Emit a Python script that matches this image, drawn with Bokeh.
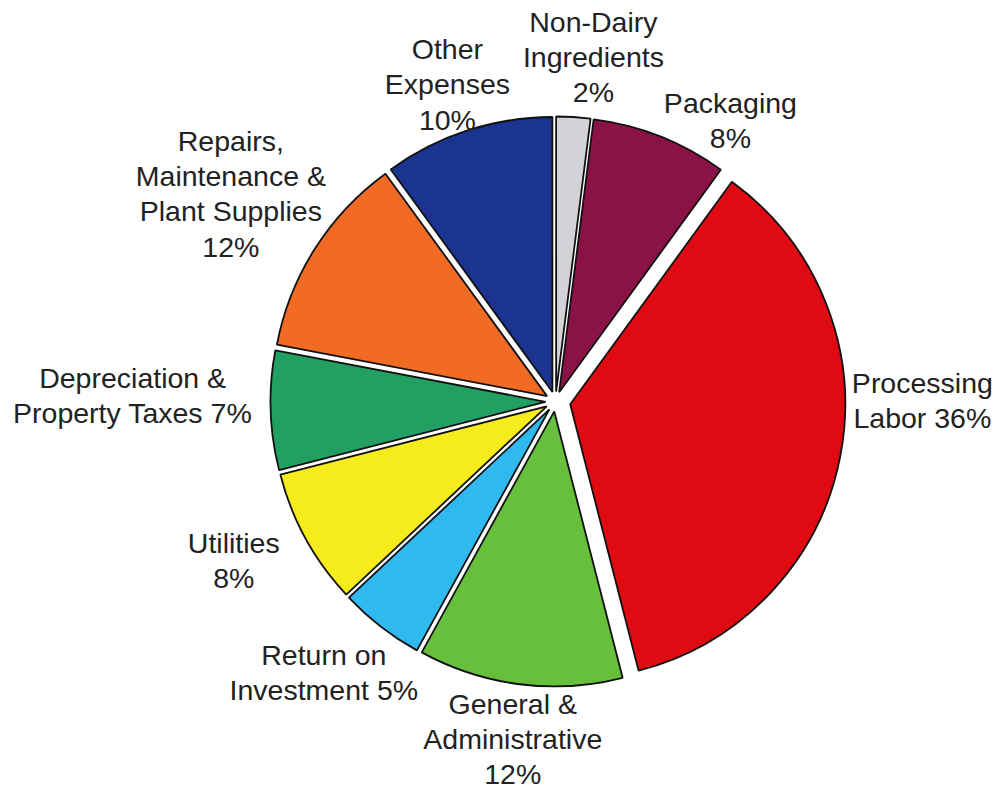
import math
from bokeh.plotting import figure
from bokeh.models import ColumnDataSource, Range1d
from bokeh.embed import file_html
from bokeh.resources import INLINE
from bokeh.core.properties import value

# ---- data (clockwise from 12 o'clock) ----
names = ["Non-Dairy\nIngredients", "Packaging", "Processing\nLabor",
         "General &\nAdministrative", "Return on\nInvestment", "Utilities",
         "Depreciation &\nProperty Taxes", "Repairs,\nMaintenance &\nPlant Supplies",
         "Other\nExpenses"]
percents = [2, 8, 36, 12, 5, 8, 7, 12, 10]
pct_sep = ["\n", "\n", " ", "\n", " ", "\n", " ", "\n", "\n"]
colors = ["#d3d3d7", "#8a1247", "#e00a12", "#66c03c", "#30b9ee",
          "#f6ec1c", "#22a062", "#f26b25", "#1b3391"]

# ---- layout / style ----
W, H = 1000, 790
CX, CY = 555, 389          # pie centre (data units == pixels, y up)
R = 275                    # pie radius
explode = [10, 10, 15, 10, 10, 10, 10, 10, 10]
# label nudges from the outer mid point of each slice (pixels, y up)
nudges = [(20, 60), (70, 16), (82, 55), (-7, -55), (-57, -46),
          (-72, -22), (-138, 15), (-84, 55), (-20, 46)]

total = float(sum(percents))
starts, ends, xs, ys, lx, ly, labels = [], [], [], [], [], [], []
cum = 0.0
for i, v in enumerate(percents):
    a0 = cum / total * 2 * math.pi
    cum += v
    a1 = cum / total * 2 * math.pi
    s = math.pi / 2 - a1
    e = math.pi / 2 - a0
    mid = (s + e) / 2
    starts.append(s)
    ends.append(e)
    xs.append(CX + explode[i] * math.cos(mid))
    ys.append(CY + explode[i] * math.sin(mid))
    ox = CX + (R + explode[i]) * math.cos(mid)
    oy = CY + (R + explode[i]) * math.sin(mid)
    lx.append(ox + nudges[i][0])
    ly.append(oy + nudges[i][1])
    labels.append(names[i] + pct_sep[i] + f"{v}%")

src = ColumnDataSource(dict(x=xs, y=ys, start=starts, end=ends, color=colors,
                            lx=lx, ly=ly, label=labels))

p = figure(width=W, height=H, x_range=Range1d(0, W), y_range=Range1d(0, H),
           output_backend="svg", toolbar_location=None,
           x_axis_type=None, y_axis_type=None, min_border=0)
p.outline_line_color = None
p.xgrid.visible = False
p.ygrid.visible = False
p.background_fill_color = "white"

p.wedge(x="x", y="y", radius=R, start_angle="start", end_angle="end",
        direction="anticlock", fill_color="color", line_color="#111111",
        line_width=1.8, source=src)

p.text(x="lx", y="ly", text="label", source=src, text_align="center",
       text_baseline="middle", text_font=value("Liberation Sans"),
       text_font_size="28.5px", text_color="#222222", text_line_height=1.1)

open("out.html", "w").write(file_html(p, INLINE))
